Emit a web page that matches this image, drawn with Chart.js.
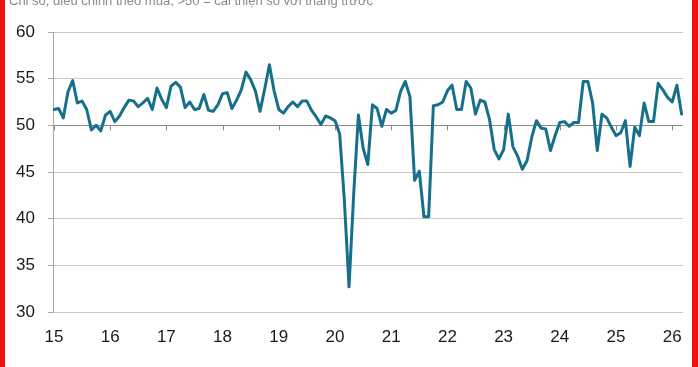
<!DOCTYPE html>
<html>
<head>
<meta charset="utf-8">
<script src="https://cdn.jsdelivr.net/npm/chart.js@4"></script>
<style>
  body { margin: 0; background: #fff; }
  #wrap { position: relative; width: 698px; height: 367px; overflow: hidden; background: #fff; }
  #pmiChart { position: absolute; left: 0; top: 0; }
  #subtitle {
    position: absolute; left: 9px; top: -6px;
    font: 13px "Liberation Sans", Arial, sans-serif; line-height: 13px;
    color: #8a8a8a; white-space: nowrap;
  }
  .redbar { position: absolute; top: 0; height: 367px; background: #f01010; }
</style>
</head>
<body>
<div id="wrap">
  <canvas id="pmiChart" width="698" height="367"></canvas>
  <div id="subtitle">Chỉ số, điều chỉnh theo mùa, &gt;50 = cải thiện so với tháng trước</div>
  <div class="redbar" style="left:0;width:5px"></div>
  <div class="redbar" style="left:692px;width:6px"></div>
</div>
<script>
// monthly PMI readings, Jan..Dec
const pmi2015 = [51.7, 51.8, 50.8, 53.6, 54.8, 52.4, 52.6, 51.7, 49.5, 50.0, 49.4, 51.1];
const pmi2016 = [51.5, 50.4, 51.0, 51.9, 52.7, 52.6, 52.0, 52.4, 52.9, 51.7, 54.0, 52.8];
const pmi2017 = [51.9, 54.2, 54.6, 54.1, 51.9, 52.5, 51.7, 51.8, 53.3, 51.6, 51.5, 52.2];
const pmi2018 = [53.4, 53.5, 51.8, 52.7, 53.8, 55.7, 54.9, 53.7, 51.5, 53.9, 56.5, 53.7];
const pmi2019 = [51.7, 51.3, 52.0, 52.5, 52.0, 52.6, 52.6, 51.6, 50.9, 50.1, 51.0, 50.8];
const pmi2020 = [50.5, 49.1, 42.0, 32.7, 42.7, 51.1, 47.6, 45.8, 52.2, 51.8, 49.9, 51.7];
const pmi2021 = [51.3, 51.6, 53.6, 54.7, 53.1, 44.1, 45.1, 40.2, 40.2, 52.1, 52.2, 52.5];
const pmi2022 = [53.7, 54.3, 51.7, 51.7, 54.7, 54.0, 51.2, 52.7, 52.5, 50.6, 47.4, 46.4];
const pmi2023 = [47.4, 51.2, 47.7, 46.7, 45.3, 46.2, 48.7, 50.5, 49.7, 49.6, 47.3, 48.9];
const pmi2024 = [50.3, 50.4, 49.9, 50.3, 50.3, 54.7, 54.7, 52.4, 47.3, 51.2, 50.8, 49.8];
const pmi2025 = [48.9, 49.2, 50.5, 45.6, 49.8, 48.9, 52.4, 50.4, 50.4, 54.5, 53.8, 53.0];
const pmi2026 = [52.5, 54.3, 51.2];

const yearLabels = ['15', '16', '17', '18', '19', '20', '21', '22', '23', '24', '25', '26'];
const yMin = 30, yMax = 60, yStep = 5;

const pmiValues = [].concat(pmi2015, pmi2016, pmi2017, pmi2018, pmi2019, pmi2020,
  pmi2021, pmi2022, pmi2023, pmi2024, pmi2025, pmi2026);
const points = pmiValues.map((v, i) => ({ x: i, y: v }));

const FONT = '"Liberation Sans", Arial, sans-serif';

// small year tick marks hanging from the 50 line
const tickAt50 = {
  id: 'tickAt50',
  beforeDatasetsDraw(chart) {
    const { ctx, scales } = chart;
    const y0 = scales.y.getPixelForValue(50);
    ctx.save();
    ctx.strokeStyle = '#8a8a8a';
    ctx.lineWidth = 1;
    scales.x.ticks.forEach(t => {
      const x = Math.round(scales.x.getPixelForValue(t.value)) + 0.5;
      ctx.beginPath();
      ctx.moveTo(x, y0);
      ctx.lineTo(x, y0 + 5);
      ctx.stroke();
    });
    ctx.restore();
  }
};

new Chart(document.getElementById('pmiChart'), {
  type: 'line',
  data: {
    datasets: [{
      data: points,
      borderColor: '#17708b',
      borderWidth: 3,
      pointRadius: 0,
      tension: 0,
      borderJoinStyle: 'round',
      borderCapStyle: 'round'
    }]
  },
  options: {
    responsive: false,
    animation: false,
    devicePixelRatio: 1,
    layout: { padding: { left: 0, right: 15, top: 32, bottom: 0 } },
    plugins: { legend: { display: false }, tooltip: { enabled: false } },
    scales: {
      x: {
        type: 'linear',
        min: -0.2,
        max: 134.3,
        afterBuildTicks: s => { s.ticks = yearLabels.map((_, k) => ({ value: k * 12 })); },
        afterFit: s => { s.height = 55; },
        border: { display: false },
        grid: { display: false, drawTicks: false },
        ticks: {
          autoSkip: false,
          maxRotation: 0,
          padding: 15,
          color: '#1a1a1a',
          font: { family: FONT, size: 17 },
          callback: (v, i) => yearLabels[i]
        }
      },
      y: {
        min: yMin,
        max: yMax,
        afterFit: s => { s.width = 53; },
        border: { display: true, color: '#a6a6a6', width: 1 },
        grid: {
          color: c => (c.tick && c.tick.value === 50 ? '#8a8a8a' : '#cacaca'),
          tickColor: '#a6a6a6',
          tickLength: 5
        },
        ticks: {
          stepSize: yStep,
          padding: 13,
          color: '#1a1a1a',
          font: { family: FONT, size: 17 }
        }
      }
    }
  },
  plugins: [tickAt50]
});
</script>
</body>
</html>
